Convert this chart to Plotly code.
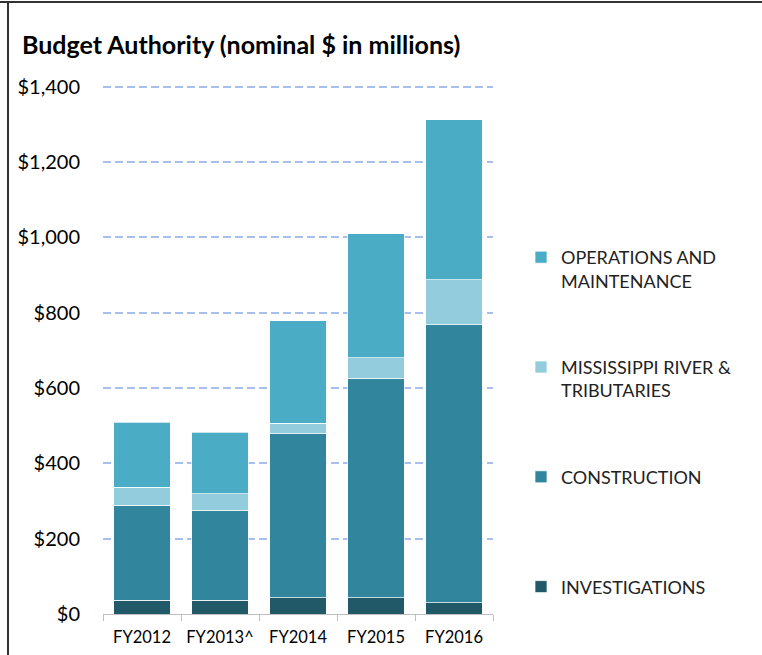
import plotly.graph_objects as go

categories = ["FY2012", "FY2013^", "FY2014", "FY2015", "FY2016"]
investigations = [37, 37, 43, 43, 30]
construction = [252, 238, 436, 583, 738]
mississippi = [48, 44, 28, 55, 120]
operations = [172, 164, 272, 329, 425]

y_tick_values = [0, 200, 400, 600, 800, 1000, 1200, 1400]
y_tick_labels = ["$0", "$200", "$400", "$600", "$800", "$1,000", "$1,200", "$1,400"]

series_names = ["INVESTIGATIONS", "CONSTRUCTION", "MISSISSIPPI RIVER &<br>TRIBUTARIES", "OPERATIONS AND<br>MAINTENANCE"]
series_values = [investigations, construction, mississippi, operations]
series_colors = ["#215968", "#31859C", "#93CDDD", "#4BACC6"]

W, H = 762, 655
ML, MR, MT, MB = 103, 269, 83, 41
PW, PH = W - ML - MR, H - MT - MB

fig = go.Figure()
n = len(series_names)
for i, (name, vals, col) in enumerate(zip(series_names, series_values, series_colors)):
    label = name if "<br>" in name else name + "<br> "
    fig.add_trace(go.Bar(
        x=categories, y=vals, name=label, legendgroup=f"g{i}", legendrank=n - i,
        marker=dict(color=col, line=dict(color="rgba(255,255,255,0.7)", width=1)),
    ))

def px_x(p):
    return (p - ML) / PW

def px_y(p):
    return (H - MB - p) / PH

fig.update_layout(
    width=W, height=H,
    margin=dict(l=ML, r=MR, t=MT, b=MB, autoexpand=False),
    barmode="stack", bargap=0.28,
    plot_bgcolor="white", paper_bgcolor="white",
    font=dict(family="Lato", color="#000000"),
    title=dict(text="<b>Budget Authority (nominal $ in millions)</b>",
               x=22 / W, xanchor="left", y=1 - 45 / H, yanchor="middle",
               font=dict(size=25, family="Lato", color="#000000")),
    xaxis=dict(showline=True, linecolor="#bfbfbf", linewidth=1, automargin=False,
               ticks="outside", tickson="boundaries", ticklen=6, tickcolor="#bfbfbf",
               tickangle=0, ticklabelstandoff=8,
               tickfont=dict(size=16.5, family="Lato", color="#000000"),
               showgrid=False, fixedrange=True),
    yaxis=dict(range=[0, 1410], tickvals=y_tick_values, ticktext=y_tick_labels,
               automargin=False,
               showgrid=True, gridcolor="#a7bfea", griddash="8px,4px", gridwidth=1.5,
               zeroline=False, ticks="", ticklabelstandoff=22,
               tickfont=dict(size=20, family="Lato", color="#000000")),
    legend=dict(x=px_x(521), xanchor="left", y=px_y(239), yanchor="top",
                traceorder="grouped", tracegroupgap=60, valign="top",
                font=dict(size=18, family="Lato", color="#222222"),
                itemwidth=30, bgcolor="rgba(0,0,0,0)"),
    shapes=[
        dict(type="line", xref="paper", yref="paper", x0=px_x(0), x1=px_x(W), y0=px_y(2), y1=px_y(2),
             line=dict(color="#333333", width=2)),
        dict(type="line", xref="paper", yref="paper", x0=px_x(8), x1=px_x(8), y0=px_y(2), y1=px_y(H),
             line=dict(color="#333333", width=2)),
    ],
)

fig.write_html("out.html", config={"displayModeBar": False},
               post_script="document.body.style.margin='0';")
